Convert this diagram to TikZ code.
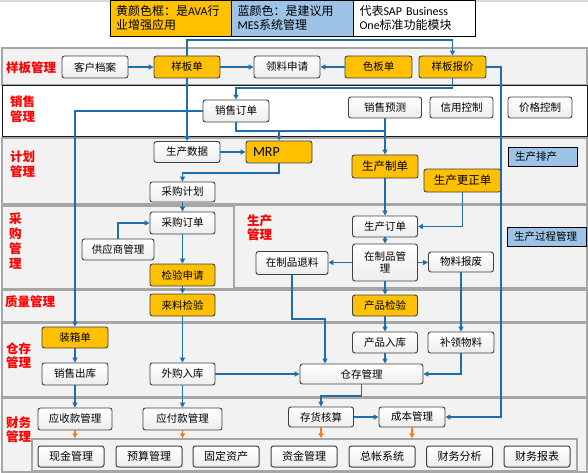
\documentclass[tikz,border=0pt]{standalone}
\usepackage{fontspec}
\setmainfont{Noto Sans CJK SC}
\newfontfamily\latf{Carlito}
\usetikzlibrary{arrows.meta}
\definecolor{ava}{HTML}{FFC000}
\definecolor{mes}{HTML}{9DC3E6}
\definecolor{conn}{HTML}{1F6EAA}
\definecolor{orng}{HTML}{F47B20}
\definecolor{band}{HTML}{F2F2F2}
\definecolor{bandline}{HTML}{A6A6A6}
\definecolor{boxline}{HTML}{404040}
\tikzset{
 base/.style={draw=boxline,line width=0.9pt,rounded corners=2.5pt,inner sep=0pt,align=center,text=black,font=\fontsize{10.5}{12}\selectfont},
 box/.style={base,top color=white,bottom color=black!7},
 ybox/.style={base,fill=ava},
 bbox/.style={draw=black,line width=0.8pt,fill=mes,inner sep=0pt,align=left,font=\fontsize{10.5}{12}\selectfont},
 fbox/.style={box,line width=1pt,font=\fontsize{11}{12}\selectfont},
 wh/.style 2 args={minimum width=#1pt,minimum height=#2pt},
 arr/.style={draw=conn,line width=1.5pt,-{Triangle[length=5pt,width=5pt]}},
 ln/.style={draw=conn,line width=1.5pt},
 oarr/.style={draw=orng,line width=1.5pt,-{Triangle[length=5pt,width=5pt]}},
 lbl/.style={text=red,font=\bfseries\fontsize{12.5}{15}\selectfont,inner sep=0pt,align=left,anchor=west},
 bandg/.style={fill=band,draw=bandline,line width=1.5pt},
 leg/.style={draw=black,line width=0.8pt,minimum width=122pt,minimum height=36pt,inner sep=0pt,text width=110pt,align=left,font=\fontsize{12}{14}\selectfont},
}
\begin{document}
\begin{tikzpicture}[x=1pt,y=-1pt]
\useasboundingbox (0,0) rectangle (588,473);
\fill[white] (0,0) rectangle (588,473);
\draw[black!15,line width=1.5pt] (0,1) -- (588,1);
% bands
\path[bandg] (2,48) rectangle (587,85);
\path[fill=white,draw=black!90,line width=1pt] (2,86) rectangle (587,137);
\path[bandg] (2,138) rectangle (587,204);
\path[bandg] (2,206) rectangle (234,289);
\path[bandg] (234,205) rectangle (587,288);
\path[bandg] (2,290) rectangle (587,322);
\path[bandg] (2,323) rectangle (587,397);
\path[bandg] (2,398) rectangle (587,472);
\node[draw=bandline,line width=1.5pt,fill=band,minimum width=545pt,minimum height=32pt,inner sep=0pt] (finbox) at (304.5,455) {};
% legend
\node[leg,fill=ava] (leg1) at (171,18) {黄颜色框：是{\latf AVA}行\\业增强应用};
\node[leg,fill=mes] (leg2) at (292.5,18) {蓝颜色：是建议用\\{\latf MES}系统管理};
\node[leg,fill=white] (leg3) at (414.5,18) {代表{\latf SAP Business}\\{\latf One}标准功能模块};
% lane labels
\node[lbl] (L1) at (6,68) {样板管理};
\node[lbl] (L2) at (10,109.5) {销售\\管理};
\node[lbl] (L3) at (10,164.5) {计划\\管理};
\node[lbl,font=\bfseries\fontsize{12.5}{14.7}\selectfont] (L4) at (9,241) {采\\购\\管\\理};
\node[lbl] (L5) at (5,302) {质量管理};
\node[lbl,font=\bfseries\fontsize{12.5}{13.7}\selectfont] (L6) at (6,355.5) {仓存\\管理};
\node[lbl,font=\bfseries\fontsize{12.5}{13.7}\selectfont] (L7) at (6,429.5) {财务\\管理};
\node[lbl,font=\bfseries\fontsize{12.5}{13.7}\selectfont] (L8) at (247,227.5) {生产\\管理};
% row coordinates
\coordinate (h40) at (0,40);
\coordinate (h88) at (0,88);
\coordinate (h131) at (0,131);
\coordinate (h173) at (0,173);
\coordinate (h319) at (0,319);
\coordinate (h396) at (0,396);
\coordinate (v325) at (325,0);
\coordinate (v501) at (501,0);
% nodes
\node[box,wh={66}{22}] (khda) at (95,67) {客户档案};
\node[ybox,wh={66}{22}] (ybd) at (187,67) {样板单};
\node[box,wh={66}{22}] (llsq) at (287,67) {领料申请};
\node[ybox,wh={67}{22}] (sbd) at (378.5,67) {色板单};
\node[ybox,wh={67}{22}] (ybbj) at (452.5,67) {样板报价};
\node[box,wh={66}{22}] (xsdd) at (236,111) {销售订单};
\node[box,wh={73}{21}] (xsyc) at (385,107.5) {销售预测};
\node[box,wh={63}{21}] (xykz) at (461.5,107.5) {信用控制};
\node[box,wh={64}{21}] (jgkz) at (540,107.5) {价格控制};
\node[box,wh={66}{21}] (scsj) at (187,152) {生产数据};
\node[ybox,wh={66}{22},text width=52pt,align=left,font=\latf\fontsize{14}{15}\selectfont] (mrp) at (279,152) {MRP};
\node[ybox,wh={66}{23},font=\fontsize{11.5}{13}\selectfont] (scz) at (385,166.5) {生产制单};
\node[ybox,wh={77}{23},font=\fontsize{11.5}{13}\selectfont] (sczz) at (462.5,180.5) {生产更正单};
\node[box,wh={65}{20}] (cgjh) at (182.5,192) {采购计划};
\node[bbox,wh={69}{19},text width=55pt] (scpc) at (542.5,156.5) {生产排产};
\node[box,wh={65}{22}] (cgdd) at (182.5,223) {采购订单};
\node[box,wh={72}{21}] (gysgl) at (118,249.5) {供应商管理};
\node[ybox,wh={65}{22}] (jysq) at (182.5,275) {检验申请};
\node[box,wh={65}{21}] (scdd) at (385,226.5) {生产订单};
\node[box,wh={65}{37}] (zzp) at (385,262.5) {在制品管\\理};
\node[box,wh={65}{20}] (wlbf) at (461,262) {物料报废};
\node[box,wh={72}{23}] (zzptl) at (292,263) {在制品退料};
\node[bbox,wh={79}{19},text width=65pt] (scgc) at (546.5,236.5) {生产过程管理};
\node[ybox,wh={65}{22}] (lljy) at (182.5,305) {来料检验};
\node[ybox,wh={65}{21}] (cpjy) at (385,305.5) {产品检验};
\node[ybox,wh={66}{21}] (zxd) at (75,337.5) {装箱单};
\node[box,wh={66}{22}] (xsck) at (75,374) {销售出库};
\node[box,wh={65}{22}] (wgrk) at (182.5,374) {外购入库};
\node[box,wh={65}{21}] (cprk) at (385,342.5) {产品入库};
\node[box,wh={66}{21}] (blwl) at (461,342.5) {补领物料};
\node[box,wh={123}{20}] (ccgl) at (361.5,374) {仓存管理};
\node[box,wh={74}{22}] (yskgl) at (75,419) {应收款管理};
\node[box,wh={79}{22}] (yfkgl) at (182.5,419) {应付款管理};
\node[box,wh={65}{20}] (chhs) at (321,417) {存货核算};
\node[box,wh={66}{20}] (cbgl) at (412,417) {成本管理};
\node[fbox,wh={66}{21}] (xjgl) at (71,456.5) {现金管理};
\node[fbox,wh={66}{21}] (ysgl) at (149,456.5) {预算管理};
\node[fbox,wh={66}{21}] (gdzc) at (226,456.5) {固定资产};
\node[fbox,wh={66}{21}] (zjgl) at (304,456.5) {资金管理};
\node[fbox,wh={66}{21}] (zzxt) at (382,456.5) {总帐系统};
\node[fbox,wh={66}{21}] (cwfx) at (459.5,456.5) {财务分析};
\node[fbox,wh={66}{21}] (cwbb) at (537,456.5) {财务报表};
% connectors
\draw[arr] (khda.east) -- (ybd.west);
\draw[arr] (ybd.east) -- (llsq.west);
\draw[arr] (sbd.west) -- (llsq.east);
\draw[arr] (ybd.north) -- (ybd.north |- h40) -| (ybbj.north);
\draw[arr] (ybbj.south) -- (ybbj.south |- h88) -| (xsdd.north);
\draw[arr] (ybd.south) -- (scsj.north);
\draw[arr] (xsdd.west) -| (zxd.north);
\draw[arr] (xsdd.south) -- (xsdd.south |- h131) -| (mrp.north);
\draw[ln] (xsyc.south) -- (xsyc.south |- h131) -- (mrp.north |- h131);
\draw[arr] (xsyc.south) -- (scz.north);
\draw[arr] (scsj.east) -- (mrp.west);
\draw[arr] (mrp.south) -- (mrp.south |- h173) -| (cgjh.north);
\draw[arr] (cgjh.south) -- (cgdd.north);
\draw[arr] (gysgl.north) |- (cgdd.west);
\draw[arr] (cgdd.south) -- (jysq.north);
\draw[arr] (jysq.south) -- (lljy.north);
\draw[arr] (lljy.south) -- (wgrk.north);
\draw[arr] (zxd.south) -- (xsck.north);
\draw[arr] (xsck.south) -- (yskgl.north);
\draw[arr] (wgrk.south) -- (yfkgl.north);
\draw[arr] (wgrk.east) -- (wgrk.east -| ccgl.west);
\draw[arr] (scz.south) -- (scdd.north);
\draw[arr] (sczz.south) |- (scdd.east);
\draw[arr] (scdd.south) -- (zzp.north);
\draw[arr] (zzp.west) -- (zzp.west -| zzptl.east);
\draw[arr] (zzp.east) -- (zzp.east -| wlbf.west);
\draw[arr] (zzp.south) -- (cpjy.north);
\draw[arr] (zzptl.south) -- (zzptl.south |- h319) -| (ccgl.north -| v325);
\draw[arr] (cpjy.south) -- (cprk.north);
\draw[arr] (cprk.south) -- (cprk.south |- ccgl.north);
\draw[arr] (wlbf.south) -- (blwl.north);
\draw[arr] (blwl.south) |- (ccgl.east);
\draw[arr] (ccgl.south) -- (ccgl.south |- h396) -| (chhs.north);
\draw[arr] (chhs.east) -- (cbgl.west);
\draw[arr] (ybbj.east) -- (ybbj.east -| v501) |- (cbgl.east);
\draw[oarr] (yskgl.south) -- (yskgl.south |- finbox.north);
\draw[oarr] (yfkgl.south) -- (yfkgl.south |- finbox.north);
\draw[oarr] (chhs.south) -- (chhs.south |- finbox.north);
\draw[oarr] (cbgl.south) -- (cbgl.south |- finbox.north);
\end{tikzpicture}
\end{document}
